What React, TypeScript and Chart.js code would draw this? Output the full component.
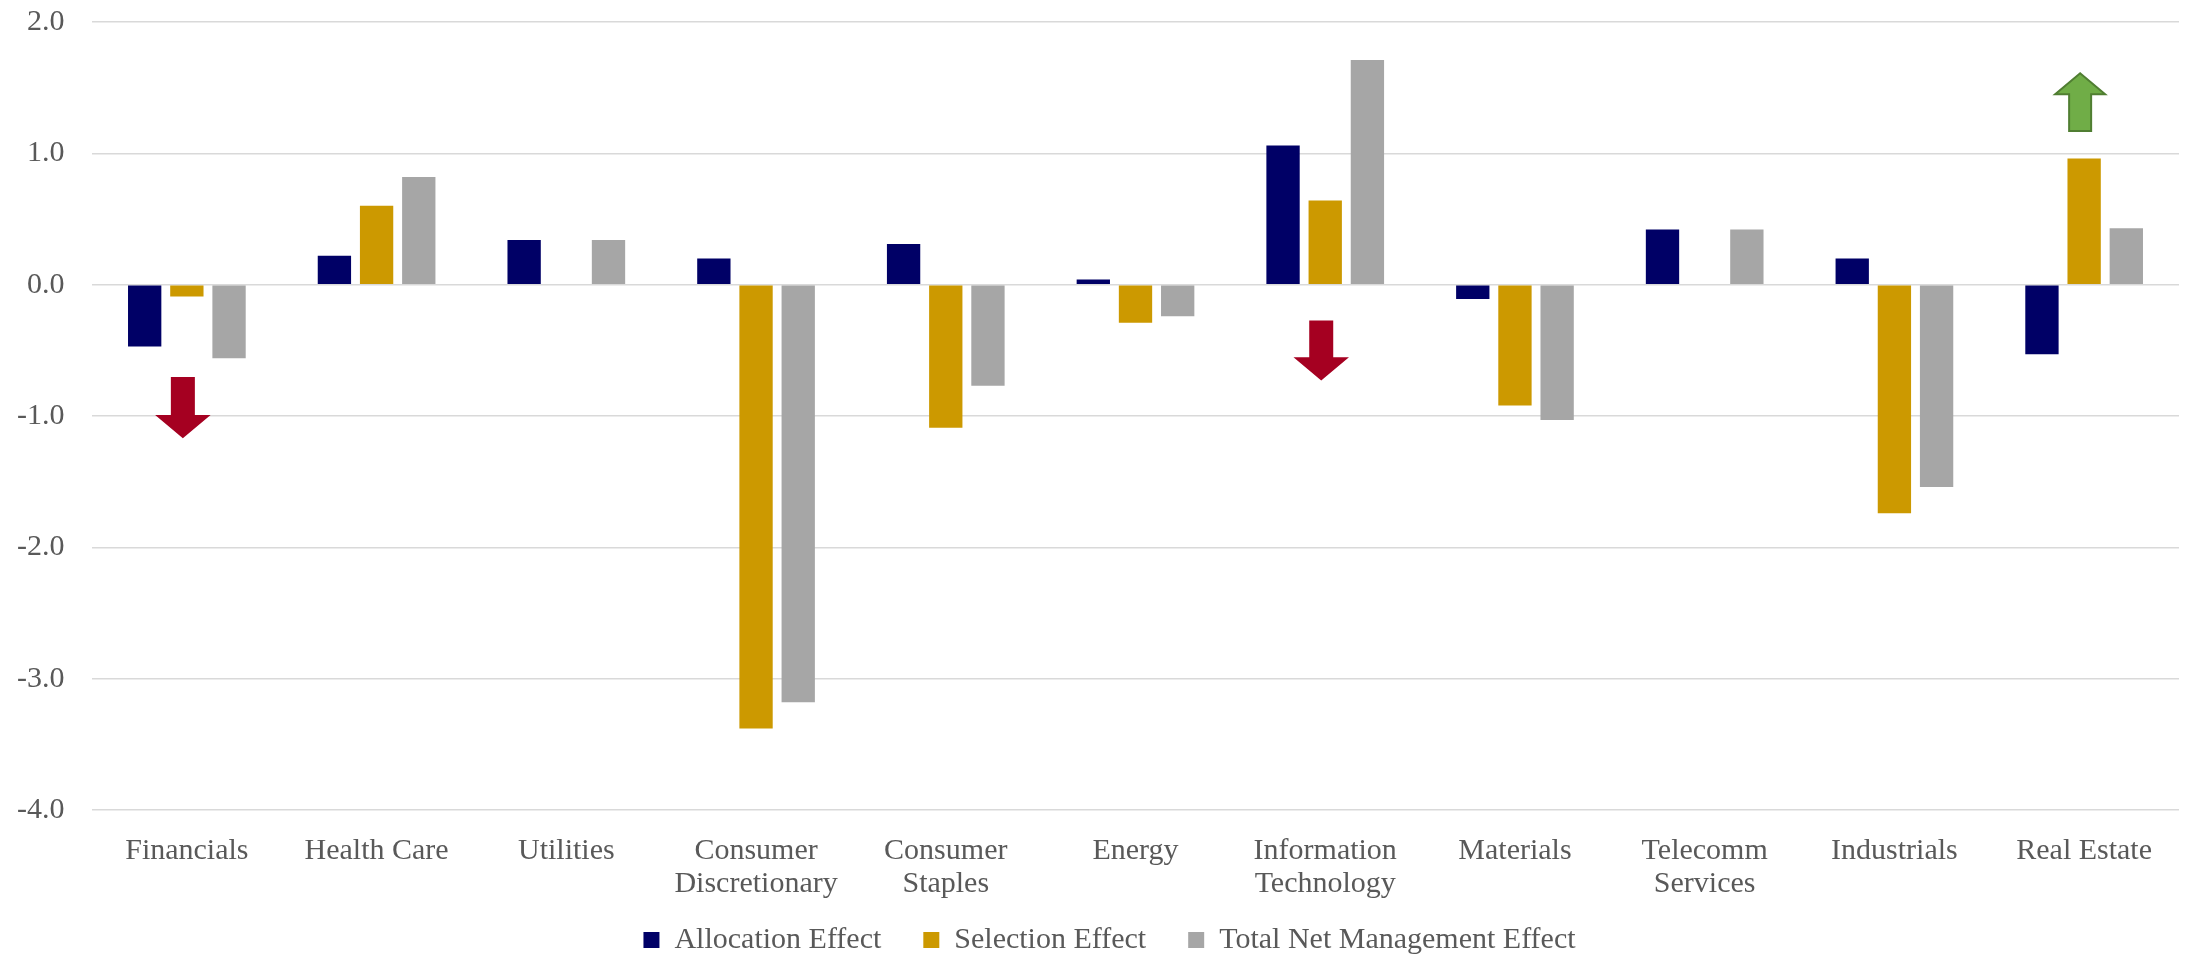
import { useEffect, useRef } from 'react';
import { Chart, registerables } from 'chart.js';

Chart.register(...registerables);

// Sectors along the category axis (two-line labels where the text wraps)
const categories: (string | string[])[] = [
  'Financials',
  'Health Care',
  'Utilities',
  ['Consumer', 'Discretionary'],
  ['Consumer', 'Staples'],
  'Energy',
  ['Information', 'Technology'],
  'Materials',
  ['Telecomm', 'Services'],
  'Industrials',
  'Real Estate',
];

const allocationEffect = [-0.47, 0.22, 0.34, 0.2, 0.31, 0.04, 1.06, -0.11, 0.42, 0.2, -0.53];
const selectionEffect = [-0.09, 0.6, 0.0, -3.38, -1.09, -0.29, 0.64, -0.92, 0.0, -1.74, 0.96];
const totalNetEffect = [-0.56, 0.82, 0.34, -3.18, -0.77, -0.24, 1.71, -1.03, 0.42, -1.54, 0.43];

const yTicks = { min: -4, max: 2, step: 1 };

// Direction markers: category index, value where the shaft starts, value at the tip
const arrowNotes = [
  { at: 0, from: -0.71, to: -1.16, fill: '#A50021', stroke: '#A50021' },
  { at: 6, from: -0.28, to: -0.72, fill: '#A50021', stroke: '#A50021' },
  { at: 10, from: 1.17, to: 1.61, fill: '#70AD47', stroke: '#507E32' },
];

const FONT = "'Liberation Serif', 'Times New Roman', serif";
const TEXT = '#595959';

const arrowPlugin = {
  id: 'trendArrows',
  afterDatasetsDraw(chart: any) {
    const { ctx } = chart;
    const xs = chart.scales.x;
    const ys = chart.scales.y;
    const headLen = 21;
    const shaftHalf = 11;
    const headHalf = 25;
    ctx.save();
    arrowNotes.forEach((a) => {
      const cx = xs.getPixelForValue(a.at) - 4;
      const yFrom = ys.getPixelForValue(a.from);
      const yTip = ys.getPixelForValue(a.to);
      const dir = Math.sign(yTip - yFrom);
      const yBase = yTip - dir * headLen;
      ctx.beginPath();
      ctx.moveTo(cx - shaftHalf, yFrom);
      ctx.lineTo(cx + shaftHalf, yFrom);
      ctx.lineTo(cx + shaftHalf, yBase);
      ctx.lineTo(cx + headHalf, yBase);
      ctx.lineTo(cx, yTip);
      ctx.lineTo(cx - headHalf, yBase);
      ctx.lineTo(cx - shaftHalf, yBase);
      ctx.closePath();
      ctx.fillStyle = a.fill;
      ctx.fill();
      ctx.lineWidth = 2;
      ctx.strokeStyle = a.stroke;
      ctx.stroke();
    });
    ctx.restore();
  },
};

// Place the legend row a little right of the canvas centre, just under the axis labels
const LEGEND_TOP = 883;
const legendPlacement = {
  id: 'legendPlacement',
  afterLayout(chart: any) {
    const lg = chart.legend;
    if (!lg) return;
    lg.left += 20;
    lg.right += 20;
    lg.bottom += LEGEND_TOP - lg.top;
    lg.top = LEGEND_TOP;
  },
};

export default function App() {
  const canvasRef = useRef<HTMLCanvasElement | null>(null);

  useEffect(() => {
    if (!canvasRef.current) return;
    const chart = new Chart(canvasRef.current, {
      type: 'bar',
      data: {
        labels: categories,
        datasets: [
          { label: 'Allocation Effect', data: allocationEffect, backgroundColor: '#000066' },
          { label: 'Selection Effect', data: selectionEffect, backgroundColor: '#CC9900' },
          { label: 'Total Net Management Effect', data: totalNetEffect, backgroundColor: '#A6A6A6' },
        ],
      },
      options: {
        animation: false,
        responsive: true,
        maintainAspectRatio: false,
        datasets: {
          bar: { categoryPercentage: 0.667, barPercentage: 0.79, borderWidth: 0 },
        },
        layout: { padding: { left: 0, right: 11, top: 22, bottom: -28 } },
        scales: {
          x: {
            grid: { display: false },
            border: { display: false },
            ticks: {
              color: TEXT,
              padding: 16,
              maxRotation: 0,
              autoSkip: false,
              font: { family: FONT, size: 30, lineHeight: 1.11 },
            },
            afterFit: (scale: any) => {
              scale.height = 90;
            },
          },
          y: {
            min: yTicks.min,
            max: yTicks.max,
            border: { display: false },
            grid: {
              color: '#D9D9D9',
              lineWidth: 1.5,
              drawTicks: true,
              tickLength: 27.5,
              tickColor: 'rgba(0,0,0,0)',
            },
            ticks: {
              stepSize: yTicks.step,
              color: TEXT,
              padding: 0,
              font: { family: FONT, size: 30, lineHeight: 1.11 },
              callback: (v: any) => Number(v).toFixed(1),
            },
            afterFit: (scale: any) => {
              scale.width = 92;
            },
          },
        },
        plugins: {
          legend: {
            position: 'bottom',
            labels: {
              color: TEXT,
              boxWidth: 16,
              boxHeight: 16,
              padding: 42,
              font: { family: FONT, size: 30 },
            },
          },
          tooltip: { enabled: false },
        },
      },
      plugins: [arrowPlugin, legendPlacement],
    });
    return () => chart.destroy();
  }, []);

  return (
    <div style={{ position: 'absolute', left: 0, top: 0, width: 2190, height: 954 }}>
      <canvas ref={canvasRef} />
    </div>
  );
}
